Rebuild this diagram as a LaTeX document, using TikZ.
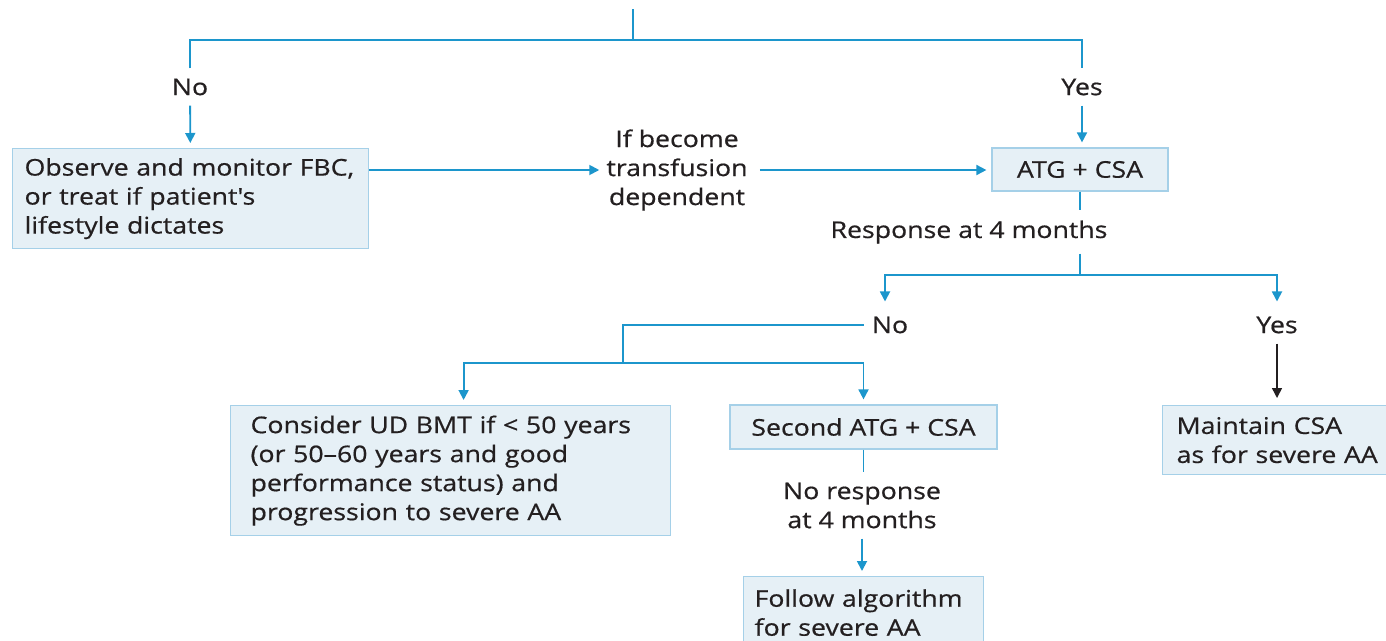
\documentclass[tikz,border=0pt]{standalone}
\usepackage{fontspec}
\setmainfont{Open Sans}[FakeStretch=1.16,FakeBold=0.6]
\usetikzlibrary{arrows.meta}
\definecolor{flowblue}{RGB}{28,150,204}
\definecolor{boxfill}{RGB}{230,240,246}
\definecolor{boxline}{RGB}{165,208,232}
\definecolor{inkgray}{RGB}{35,31,32}

\begin{document}
\begin{tikzpicture}[x=1pt,y=-1pt,font=\fontsize{23}{29}\selectfont]
  \tikzset{BoxStyle/.style = {
    shape         = rectangle,
    draw          = boxline,
    fill          = boxfill,
    line width    = 1.2pt,
    text          = inkgray,
    inner xsep    = 12pt,
    inner ysep    = 6pt,
    align         = left
    }
  }
  \tikzset{LabelStyle/.style = {
    text          = inkgray,
    inner xsep    = 8pt,
    inner ysep    = 10pt,
    align         = center
    }
  }
  \tikzset{FlowLine/.style = {
    draw          = flowblue,
    line width    = 1.8pt
    }
  }
  \tikzset{FlowArrow/.style = {
    FlowLine,
    -{Triangle[length=10pt,width=10pt]},
    shorten >     = 5pt
    }
  }
  \tikzset{BlackArrow/.style = {
    draw          = inkgray,
    line width    = 1.5pt,
    -{Triangle[length=10pt,width=10pt]},
    shorten >     = 7pt
    }
  }

  \useasboundingbox (0,0) rectangle (1386,640);
  \clip (0,0) rectangle (1386,640);

	\coordinate (top) at (633,9);
	\coordinate (split1) at (633,40);
	\node[LabelStyle](noA) at (190,87) {No};
	\node[LabelStyle](yesA) at (1082,87) {Yes};
	\node[BoxStyle, anchor=north west, text width=332pt, minimum height=100](observe) at (12,148) {Observe and monitor FBC,\\or treat if patient\textquotesingle s\\lifestyle dictates};
	\node[LabelStyle, inner xsep=2pt](trans) at (677,170) {If become\\transfusion\\dependent};
	\node[BoxStyle, align=center, minimum width=176, minimum height=43](atg) at (1080,169.5) {ATG + CSA};
	\node[LabelStyle](resp) at (969,232) {Response at 4 months};
	\coordinate (split2) at (1080,275);
	\node[LabelStyle](noB) at (890,325) {No};
	\node[LabelStyle](yesB) at (1277,325) {Yes};
	\coordinate (split3) at (623,363);
	\node[BoxStyle, anchor=north west, inner xsep=20pt, text width=400pt, minimum height=130](ud) at (230,405) {Consider UD BMT if < 50 years\\(or 50--60 years and good\\performance status) and\\progression to severe AA};
	\node[BoxStyle, align=center, minimum width=267, minimum height=44](second) at (863.5,427) {Second ATG + CSA};
	\node[LabelStyle](noresp) at (862,505.5) {No response\\at 4 months};
	\node[BoxStyle, anchor=north west, inner xsep=11pt, text width=218pt, minimum height=72](follow) at (743,576) {Follow algorithm\\for severe AA};
	\node[BoxStyle, anchor=north west, inner xsep=14pt, text width=230pt, minimum height=69](maintain) at (1162,405) {Maintain CSA\\as for severe AA};

	\draw[FlowLine](top) -- (split1);
	\draw[FlowLine](noA.north) |- (split1) -| (yesA.north);
	\draw[FlowArrow](noA) -- (observe);
	\draw[FlowArrow](yesA) -- (yesA |- atg.north);
	\draw[FlowArrow](observe.east |- trans) -- (trans.west);
	\draw[FlowArrow, shorten <=10pt](trans.east) -- (trans.east -| atg.west);
	\draw[FlowLine](atg.south) -- (atg.south |- resp.north);
	\draw[FlowLine](atg.south |- resp.south) -- (split2);
	\draw[FlowArrow](split2) -| ([xshift=-5pt]noB.north);
	\draw[FlowArrow](split2) -| (yesB.north);
	\draw[FlowLine](noB.west) -| (split3);
	\draw[FlowArrow](split3) -| ([xshift=13pt]ud.north);
	\draw[FlowArrow](split3) -| (second.north);
	\draw[FlowLine](second.south) -- (second.south |- noresp.north);
	\draw[FlowArrow](noresp) -- (noresp |- follow.north);
	\draw[BlackArrow](yesB) -- (yesB |- maintain.north);

\end{tikzpicture}
\end{document}
